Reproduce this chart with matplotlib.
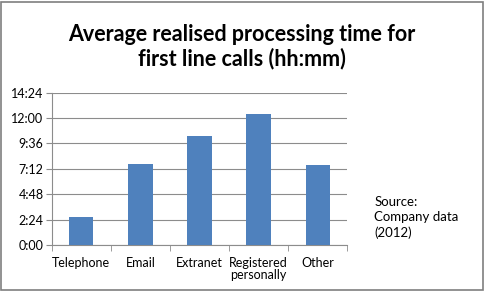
import matplotlib
matplotlib.use("Agg")
import matplotlib.pyplot as plt
from matplotlib.patches import Rectangle
from matplotlib.ticker import FixedLocator, FuncFormatter

categories = ["Telephone", "Email", "Extranet", "Registered\npersonally", "Other"]
minutes = [159, 459, 618, 743, 454]
y_ticks = [0, 144, 288, 432, 576, 720, 864]

plt.rcParams['font.family'] = ['Lato', 'DejaVu Sans']

fig = plt.figure(figsize=(4.89, 2.92), dpi=100)
fig.patches.append(Rectangle((0.003, 0.006), 0.984, 0.988, transform=fig.transFigure,
                             fill=False, edgecolor='#7f7f7f', linewidth=1.2))
ax = fig.add_axes([0.106, 0.161, 0.604, 0.522])

x = range(len(categories))
ax.bar(x, minutes, width=0.41, color='#4F81BD', zorder=3)
ax.set_xlim(-0.5, len(categories) - 0.5)
ax.set_ylim(0, 864)
ax.yaxis.set_major_locator(FixedLocator(y_ticks))
ax.yaxis.set_major_formatter(FuncFormatter(lambda v, p: f"{int(v)//60}:{int(v)%60:02d}"))
ax.grid(axis='y', color='#8c8c8c', linewidth=0.8, zorder=0)
ax.set_xticks(list(x))
ax.set_xticklabels(categories, fontsize=9, linespacing=1.0)
ax.set_xticks([i + 0.5 for i in range(-1, len(categories))], minor=True)
ax.tick_params(axis='x', which='major', length=0, pad=9)
ax.tick_params(axis='x', which='minor', length=4, color='#8c8c8c', direction='out')
ax.tick_params(axis='y', length=4, color='#8c8c8c', labelsize=9, pad=2)
for s in ['top', 'right']:
    ax.spines[s].set_visible(False)
ax.spines['left'].set_color('#8c8c8c')
ax.spines['bottom'].set_color('#8c8c8c')

fig.text(0.495, 0.84, "Average realised processing time for\nfirst line calls (hh:mm)",
         ha='center', va='center', fontsize=15.5, fontweight='bold', linespacing=1.2)
fig.text(0.765, 0.255, "Source:\nCompany data\n(2012)", ha='left', va='center',
         fontsize=9.5, linespacing=1.3)

fig.savefig("out.png", dpi=100)
